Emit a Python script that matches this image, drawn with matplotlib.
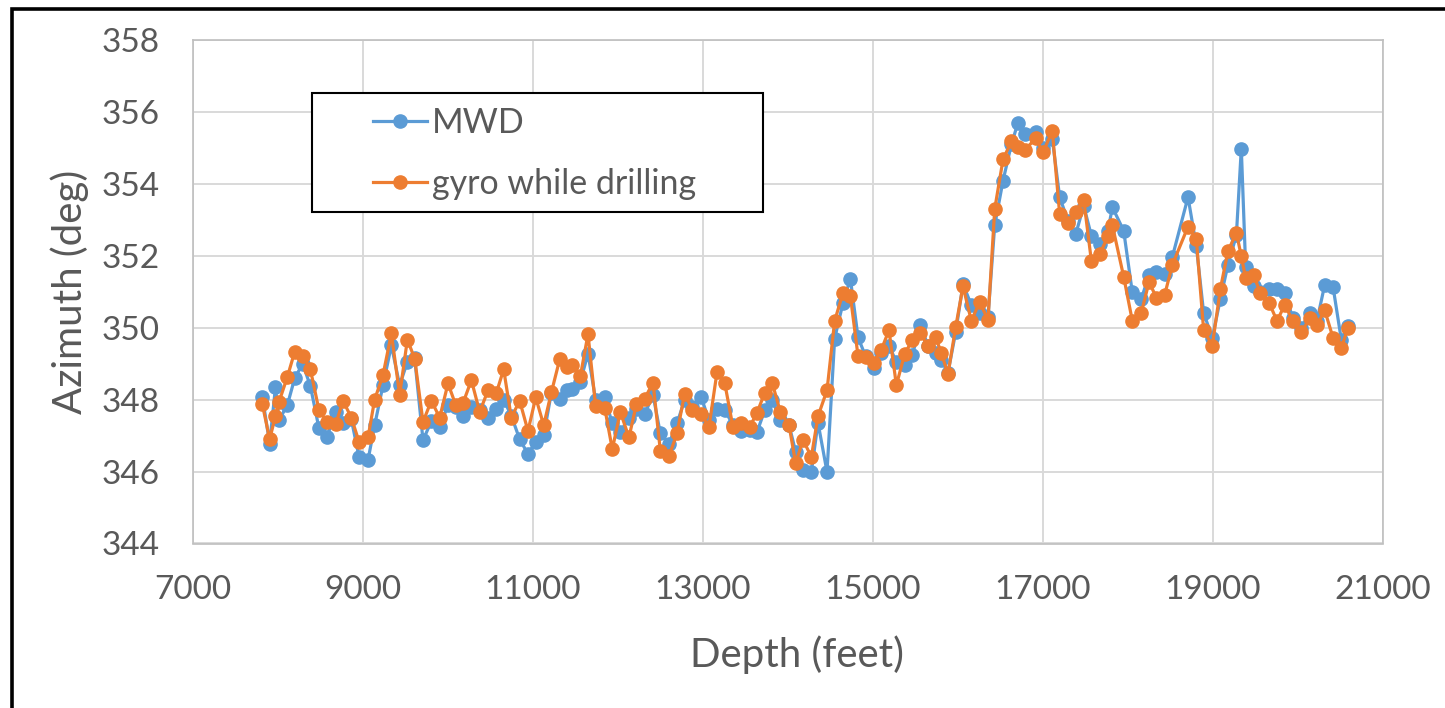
# MWD vs gyro-while-drilling azimuth along the well

import matplotlib
matplotlib.use("Agg")
import matplotlib.pyplot as plt
from matplotlib.patches import Rectangle

plt.rcParams['font.family'] = ['Lato', 'DejaVu Sans']

# depth of each survey station (ft)
depth = [7816, 7902, 7970, 8012, 8110, 8196, 8290, 8381, 8482, 8576,
         8679, 8765, 8863, 8953, 9059, 9137, 9235, 9334, 9431, 9522,
         9608, 9706, 9804, 9902, 10000, 10091, 10176, 10275, 10373, 10471,
         10569, 10655, 10745, 10843, 10941, 11032, 11126, 11216, 11314, 11400,
         11463, 11557, 11647, 11737, 11843, 11933, 12027, 12129, 12216, 12314,
         12412, 12498, 12600, 12694, 12784, 12875, 12980, 13070, 13165, 13255,
         13353, 13452, 13549, 13635, 13726, 13816, 13910, 14012, 14090, 14177,
         14275, 14353, 14459, 14549, 14647, 14734, 14824, 14914, 15008, 15098,
         15188, 15275, 15373, 15463, 15557, 15647, 15737, 15804, 15882, 15973,
         16059, 16157, 16255, 16353, 16432, 16530, 16628, 16706, 16784, 16914,
         17000, 17110, 17196, 17294, 17385, 17479, 17569, 17667, 17765, 17816,
         17949, 18051, 18157, 18247, 18334, 18431, 18522, 18706, 18804, 18890,
         18992, 19086, 19176, 19275, 19333, 19384, 19478, 19557, 19659, 19753,
         19843, 19941, 20040, 20138, 20224, 20314, 20412, 20510, 20588]

# azimuth from MWD (deg)
azi_mwd = [348.08, 346.78, 348.34, 347.43, 347.85, 348.59, 349.00, 348.38, 347.20, 346.97,
           347.66, 347.34, 347.45, 346.41, 346.32, 347.29, 348.40, 349.51, 348.40, 349.05,
           349.15, 346.87, 347.40, 347.24, 347.85, 347.80, 347.54, 347.80, 347.70, 347.50,
           347.75, 348.00, 347.55, 346.90, 346.49, 346.83, 347.01, 348.19, 348.03, 348.26,
           348.30, 348.50, 349.28, 347.99, 348.06, 347.34, 347.10, 347.50, 347.75, 347.60,
           348.13, 347.06, 346.78, 347.34, 347.99, 347.80, 348.06, 347.43, 347.75, 347.71,
           347.30, 347.13, 347.15, 347.10, 347.70, 347.99, 347.43, 347.30, 346.55, 346.04,
           346.00, 347.36, 345.99, 349.70, 350.69, 351.36, 349.73, 349.20, 348.87, 349.30,
           349.50, 349.05, 348.96, 349.24, 350.07, 349.50, 349.30, 349.10, 348.75, 349.88,
           351.21, 350.63, 350.42, 350.30, 352.85, 354.09, 355.10, 355.70, 355.39, 355.44,
           355.00, 355.24, 353.63, 352.97, 352.60, 353.39, 352.56, 352.32, 352.70, 353.35,
           352.70, 350.98, 350.80, 351.47, 351.56, 351.50, 351.97, 353.63, 352.27, 350.41,
           349.72, 350.79, 351.75, 352.57, 354.98, 351.70, 351.16, 351.00, 351.07, 351.07,
           350.96, 350.26, 350.00, 350.42, 350.20, 351.19, 351.14, 349.66, 350.05]

# azimuth from gyro while drilling (deg)
azi_gwd = [347.87, 346.90, 347.55, 347.94, 348.63, 349.33, 349.21, 348.84, 347.71, 347.38,
           347.32, 347.97, 347.50, 346.83, 346.95, 348.00, 348.68, 349.84, 348.13, 349.67,
           349.14, 347.38, 347.97, 347.50, 348.45, 347.85, 347.90, 348.54, 347.66, 348.26,
           348.19, 348.84, 347.50, 347.97, 347.13, 348.06, 347.29, 348.20, 349.12, 348.90,
           348.96, 348.65, 349.82, 347.82, 347.78, 346.62, 347.66, 346.95, 347.87, 348.03,
           348.47, 346.58, 346.43, 347.06, 348.17, 347.71, 347.60, 347.23, 348.77, 348.47,
           347.23, 347.36, 347.24, 347.63, 348.19, 348.45, 347.66, 347.29, 346.23, 346.88,
           346.41, 347.54, 348.26, 350.19, 350.97, 350.88, 349.21, 349.19, 349.02, 349.39,
           349.93, 348.40, 349.28, 349.65, 349.84, 349.49, 349.73, 349.30, 348.71, 350.02,
           351.15, 350.19, 350.72, 350.21, 353.30, 354.68, 355.18, 355.02, 354.93, 355.27,
           354.88, 355.47, 353.16, 352.91, 353.21, 353.56, 351.86, 352.05, 352.54, 352.85,
           351.42, 350.19, 350.42, 351.27, 350.84, 350.91, 351.75, 352.81, 352.46, 349.93,
           349.50, 351.07, 352.13, 352.64, 351.99, 351.38, 351.47, 350.96, 350.70, 350.19,
           350.63, 350.19, 349.88, 350.26, 350.07, 350.49, 349.72, 349.44, 350.00]

x_ticks = [7000, 9000, 11000, 13000, 15000, 17000, 19000, 21000]
y_ticks = [344, 346, 348, 350, 352, 354, 356, 358]

text_col = '#595959'
blue = '#5B9BD5'
orange = '#ED7D31'

fig = plt.figure(figsize=(14.45, 7.08), dpi=100)
ax = fig.add_axes([193 / 1445, 1 - 543.5 / 708, 1190 / 1445, 503.5 / 708])

ax.plot(depth, azi_mwd, color=blue, lw=2.3, marker='o', ms=9.5, label='MWD', zorder=3)
ax.plot(depth, azi_gwd, color=orange, lw=2.3, marker='o', ms=9.5,
        label='gyro while drilling', zorder=4)

ax.set_xlim(7000, 21000)
ax.set_ylim(344, 358)
ax.set_xticks(x_ticks)
ax.set_yticks(y_ticks)
ax.grid(True, color='#D9D9D9', lw=1.4, zorder=0)
ax.set_axisbelow(True)
for s in ax.spines.values():
    s.set_color('#BFBFBF')
    s.set_linewidth(1.2)
ax.tick_params(length=0, labelsize=24, labelcolor=text_col)
ax.tick_params(axis='x', pad=23)
ax.tick_params(axis='y', pad=24)

ax.set_xlabel('Depth (feet)', fontsize=29, color=text_col)
ax.set_ylabel('Azimuth (deg)', fontsize=29, color=text_col)
ax.xaxis.set_label_coords(0.5076, -0.182)
ax.yaxis.set_label_coords(-0.087, 0.5)

# legend box (wider than its entries, like the original)
ax.add_patch(Rectangle((0.0997, 0.6578), 0.3795, 0.2363, transform=ax.transAxes,
                       facecolor='white', edgecolor='black', lw=1.5, zorder=5))
leg = ax.legend(loc='center left', bbox_to_anchor=(0.151, 0.775), frameon=False,
                fontsize=24.5, handlelength=1.6, handletextpad=0.14,
                labelspacing=0.85, borderpad=0, borderaxespad=0)
leg.set_zorder(6)
for t in leg.get_texts():
    t.set_color(text_col)

# outer black frame, cut off at the right and bottom
fig.add_artist(Rectangle((11.5 / 1445, -0.1), 1.2, 1.1 - 9.5 / 708,
                         transform=fig.transFigure, fill=False,
                         edgecolor='black', lw=2.6))

fig.savefig('out.png', dpi=100)
